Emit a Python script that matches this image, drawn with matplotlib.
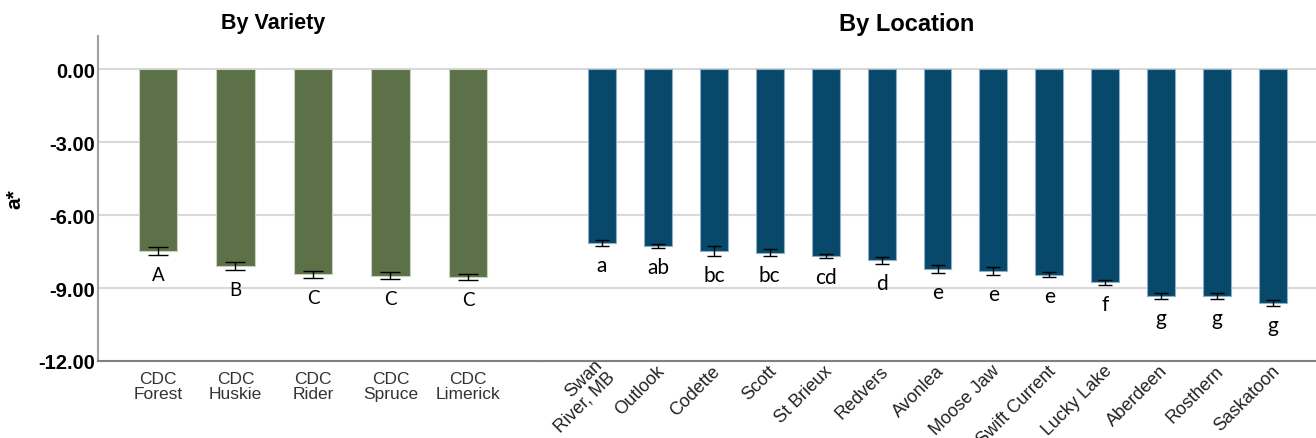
import matplotlib.pyplot as plt
import matplotlib.transforms as mtransforms
import numpy as np

# данные: сорта
varieties = ['CDC\nForest', 'CDC\nHuskie', 'CDC\nRider', 'CDC\nSpruce', 'CDC\nLimerick']
variety_means = [-7.48, -8.10, -8.43, -8.50, -8.55]
variety_err = [0.15, 0.15, 0.14, 0.14, 0.14]
variety_letters = ['A', 'B', 'C', 'C', 'C']

# данные: локации
locations = ['Swan\nRiver, MB', 'Outlook', 'Codette', 'Scott', 'St Brieux', 'Redvers', 'Avonlea',
             'Moose Jaw', 'Swift Current', 'Lucky Lake', 'Aberdeen', 'Rosthern', 'Saskatoon']
location_means = [-7.16, -7.29, -7.48, -7.55, -7.68, -7.86, -8.22, -8.29, -8.45, -8.77, -9.32, -9.32, -9.62]
location_err = [0.13, 0.08, 0.21, 0.15, 0.09, 0.15, 0.15, 0.16, 0.09, 0.12, 0.12, 0.12, 0.12]
location_letters = ['a', 'ab', 'bc', 'bc', 'cd', 'd', 'e', 'e', 'e', 'f', 'g', 'g', 'g']

yticks = [0, -3, -6, -9, -12]
green = '#5d7148'
blue = '#07486b'
grid_c = '#d9d9d9'

plt.rcParams['font.family'] = ['Liberation Sans', 'DejaVu Sans']

fig = plt.figure(figsize=(13.16, 4.39), dpi=100)
ax1 = fig.add_axes([98/1316, 77/439, 442/1316, 325/439])
ax2 = fig.add_axes([540/1316, 77/439, 776/1316, 325/439])


def draw(ax, labels, means, err, letters, color, edge, capsize, lsize):
    x = np.arange(len(labels))
    for y in yticks[:-1]:
        ax.axhline(y, color=grid_c, lw=1.5, zorder=0)
    ax.bar(x, means, width=0.5, color=color, edgecolor=edge, linewidth=0.8, zorder=2)
    ax.errorbar(x, means, yerr=err, fmt='none', ecolor='black', elinewidth=1,
                capsize=capsize, capthick=1, zorder=3)
    for xi, m, e, t in zip(x, means, err, letters):
        ax.annotate(t, (xi, m - e), xytext=(0, -18), textcoords='offset points',
                    ha='center', va='baseline', fontsize=lsize, family=['Lato', 'DejaVu Sans'])
    ax.set_ylim(-12, 1.36)
    ax.set_xticks(x)
    ax.tick_params(length=0)
    for s in ['top', 'right']:
        ax.spines[s].set_visible(False)
    ax.spines['bottom'].set_color('#808080')
    ax.spines['bottom'].set_linewidth(1.5)


draw(ax1, varieties, variety_means, variety_err, variety_letters, green, '#c9d2c0', 7, 13.5)
ax1.set_xlim(-0.774, 4.93)
ax1.set_xticklabels(varieties, fontsize=12.5, color='#333333', linespacing=1.0)
ax1.tick_params(axis='x', pad=7)
ax1.set_yticks(yticks)
ax1.set_yticklabels(['%.2f' % v for v in yticks], fontsize=14.5, fontweight='bold')
ax1.tick_params(axis='y', pad=2)
ax1.spines['left'].set_color('#a0a0a0')
ax1.spines['left'].set_linewidth(1.5)
ax1.set_ylabel('a*', fontsize=15, fontweight='bold', labelpad=10)

draw(ax2, locations, location_means, location_err, location_letters, blue, '#8fb0c4', 5, 15)
ax2.set_xlim(-1.11, 12.77)
ax2.set_xticklabels(locations, fontsize=13, color='#222222', rotation=45, ha='right',
                    va='center', rotation_mode='anchor', linespacing=1.0)
ax2.tick_params(axis='x', pad=5)
shift = mtransforms.ScaledTranslation(0.04, 0, fig.dpi_scale_trans)
for lab in ax2.get_xticklabels():
    lab.set_transform(lab.get_transform() + shift)
ax2.set_yticks([])
ax2.spines['left'].set_visible(False)

fig.text(273/1316, 1 - 23/439, 'By Variety', fontsize=15.5, fontweight='bold', ha='center', va='center')
fig.text(907/1316, 1 - 24/439, 'By Location', fontsize=17, fontweight='bold', ha='center', va='center')

plt.savefig('out.png', dpi=100)
